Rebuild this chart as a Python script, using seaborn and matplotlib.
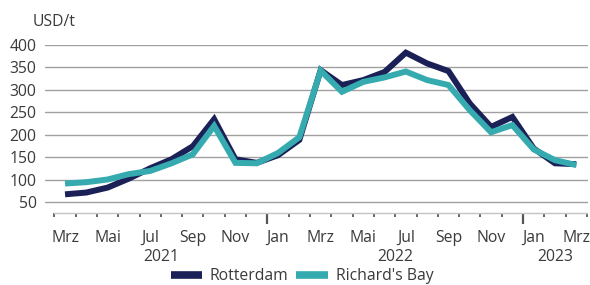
import pandas as pd
import seaborn as sns
import matplotlib.pyplot as plt

months = ["Mrz", "Apr", "Mai", "Jun", "Jul", "Aug", "Sep", "Okt", "Nov", "Dez",
          "Jan", "Feb", "Mrz", "Apr", "Mai", "Jun", "Jul", "Aug", "Sep", "Okt", "Nov", "Dez",
          "Jan", "Feb", "Mrz"]
rotterdam = [68, 72, 83, 103, 126, 146, 175, 235, 146, 138,
             155, 189, 344, 311, 322, 340, 383, 359, 342, 270, 218, 240,
             170, 137, 135]
richards_bay = [92, 95, 101, 113, 120, 137, 157, 220, 138, 137,
                160, 195, 343, 296, 318, 328, 341, 322, 311, 255, 206, 222,
                168, 144, 133]
years = ["2021", "2022", "2023"]
year_centers = [4.5, 15.5, 23]
year_breaks = [9.5, 21.5]
yticks = [50, 100, 150, 200, 250, 300, 350, 400]

df = pd.DataFrame({
    "idx": list(range(len(months))) * 2,
    "value": rotterdam + richards_bay,
    "series": ["Rotterdam"] * len(months) + ["Richard's Bay"] * len(months),
})

sns.set_style("white")
plt.rcParams["font.family"] = ["Open Sans", "DejaVu Sans"]
text_col = "#3a3a3a"
fs = 11.3

fig = plt.figure(figsize=(5.9, 2.85), dpi=100)
ax = fig.add_axes([45 / 590, 1 - 213 / 285, 543 / 590, 168 / 285])

sns.lineplot(data=df, x="idx", y="value", hue="series", ax=ax,
             palette={"Rotterdam": "#1b2157", "Richard's Bay": "#35abb0"},
             linewidth=4.3, legend=True)
for ln in ax.lines:
    ln.set_solid_joinstyle("miter")
    ln.set_solid_capstyle("butt")
    ln.set_clip_on(False)

ax.set_xlim(-0.94, 24.55)
ax.set_ylim(26.5, 400)
ax.set_yticks(yticks)
ax.yaxis.grid(True, color="#a0a0a0", linewidth=1)
ax.xaxis.grid(False)
ax.set_axisbelow(True)
ax.tick_params(axis="y", length=0, labelsize=fs, labelcolor=text_col, pad=6)

for s in ["top", "right", "left"]:
    ax.spines[s].set_visible(False)
ax.spines["bottom"].set_bounds(-0.5, 24.5)
ax.spines["bottom"].set_color("#c4c4c4")
ax.spines["bottom"].set_linewidth(1)

ax.set_xticks(list(range(0, len(months), 2)))
ax.set_xticklabels(months[::2])
ax.set_xticks([i - 0.5 for i in range(len(months) + 1)], minor=True)
ax.tick_params(axis="x", which="both", bottom=True)
ax.tick_params(axis="x", which="major", length=0, labelsize=fs, labelcolor=text_col, pad=12)
ax.tick_params(axis="x", which="minor", length=3.2, width=1.3, color="#5a5a5a", direction="out")
ax.set_xlabel("")
ax.set_ylabel("")

sec = ax.secondary_xaxis("bottom")
sec.set_xticks(year_breaks)
sec.set_xticklabels([])
sec.tick_params(bottom=True, length=8, width=1.6, color="#555555")
sec.spines["bottom"].set_visible(False)

sec2 = ax.secondary_xaxis("bottom")
sec2.set_xticks(year_centers)
sec2.set_xticklabels(years)
sec2.tick_params(length=0, labelsize=fs, labelcolor=text_col, pad=26)
sec2.spines["bottom"].set_visible(False)

handles, labels = ax.get_legend_handles_labels()
ax.legend_.remove()
leg = fig.legend(handles, labels, loc="center", bbox_to_anchor=(302 / 590, 9 / 285),
                 ncol=2, frameon=False, fontsize=fs, handlelength=2.0,
                 columnspacing=0.5, handletextpad=0.5, labelcolor=text_col)
for h in leg.legend_handles:
    h.set_linewidth(5.5)
    h.set_solid_capstyle("butt")

fig.text(33 / 590, 1 - 22 / 285, "USD/t", fontsize=fs, color=text_col, va="center", ha="left")

fig.savefig("out.png", dpi=100)
